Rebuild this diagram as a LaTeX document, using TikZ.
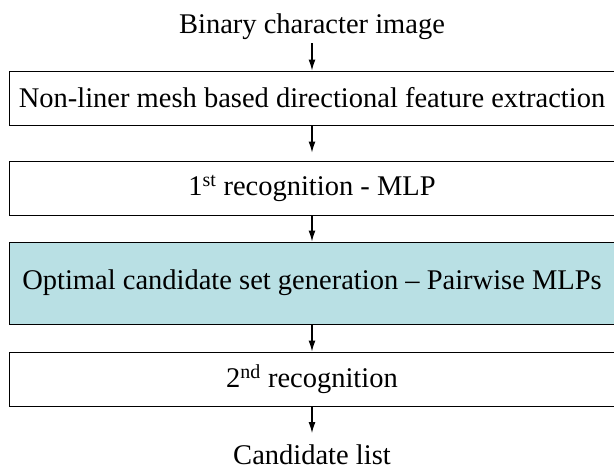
\documentclass[tikz,border=0pt]{standalone}
\usepackage{fontspec}
\setmainfont{Liberation Serif}
\usepackage{xcolor}
\usetikzlibrary{positioning, arrows.meta}
\definecolor{setblue}{RGB}{185,224,228}

\begin{document}
\begin{tikzpicture}[x=1pt, y=-1pt, font=\fontsize{28.5}{34}\selectfont,
		stage/.style={draw, line width=1pt, minimum width=606pt, minimum height=54pt, inner sep=0pt},
		label/.style={inner sep=0pt},
		flow/.style={-{Latex[length=11pt, width=7pt]}, line width=1.2pt}]
	\useasboundingbox (0,0) rectangle (614,469);
	
	\node [label, anchor=base] (input) at (312,33) {Binary character image};
	\node [stage] (feat) at (312,98) {Non-liner mesh based directional feature extraction};
	\node [stage] (rec1) at (312,188) {1\textsuperscript{st} recognition - MLP};
	\node [stage, fill=setblue, minimum height=82pt] (cand) at (312,283) {Optimal candidate set generation -- Pairwise MLPs};
	\node [stage] (rec2) at (312,379) {2\textsuperscript{nd} recognition};
	\node [label, anchor=base] (output) at (312,464) {Candidate list};
	
	\draw[flow, shorten <=4pt] (input) -- (feat);
	\draw[flow, shorten >=8pt] (feat) -- (rec1);
	\draw[flow] (rec1) -- (cand);
	\draw[flow] (cand) -- (rec2);
	\draw[flow, shorten >=11pt] (rec2) -- (output);
\end{tikzpicture}
\end{document}
